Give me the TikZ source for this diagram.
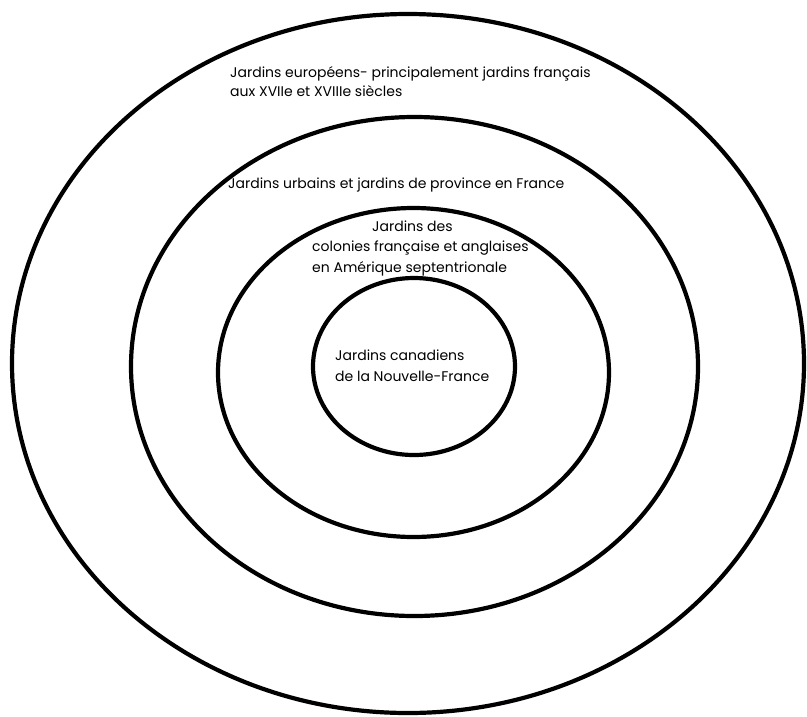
\documentclass[tikz,border=0pt]{standalone}
\usepackage{fontspec}
\setmainfont{Poppins}
\usetikzlibrary{shapes.geometric, positioning}

\begin{document}
\begin{tikzpicture}[
  x=1pt, y=-1pt,
  ring/.style={ellipse, draw, line width=4.2pt, inner sep=0pt},
  lbl/.style={font=\fontsize{14}{20.5}\selectfont, align=left, inner sep=0pt, anchor=base west}
]
  \useasboundingbox (0,0) rectangle (807,716);

  % rings, outer to inner
  \node[ring, minimum width=792pt, minimum height=699pt] (europe) at (408,363.5) {};
  \node[ring, minimum width=567pt, minimum height=499pt] (france) at (414.5,366.5) {};
  \node[ring, minimum width=391pt, minimum height=329pt] (colonies) at (413.5,372.5) {};
  \node[ring, minimum width=202pt, minimum height=177pt] (canada) at (414,366.5) {};

  % labels (base = last line)
  \node[lbl, font=\fontsize{14}{19}\selectfont] (europelbl) at (230,96) {Jardins européens- principalement jardins français\\aux XVIIe et XVIIIe siècles};
  \node[lbl] (francelbl) at (228,188.5) {Jardins urbains et jardins de province en France};
  \node[lbl] (colonieslbl) at (312,272) {\hspace*{60pt}Jardins des\\colonies française et anglaises\\en Amérique septentrionale};
  \node[lbl] (canadalbl) at (335,381) {Jardins canadiens\\de la Nouvelle-France};
\end{tikzpicture}
\end{document}
